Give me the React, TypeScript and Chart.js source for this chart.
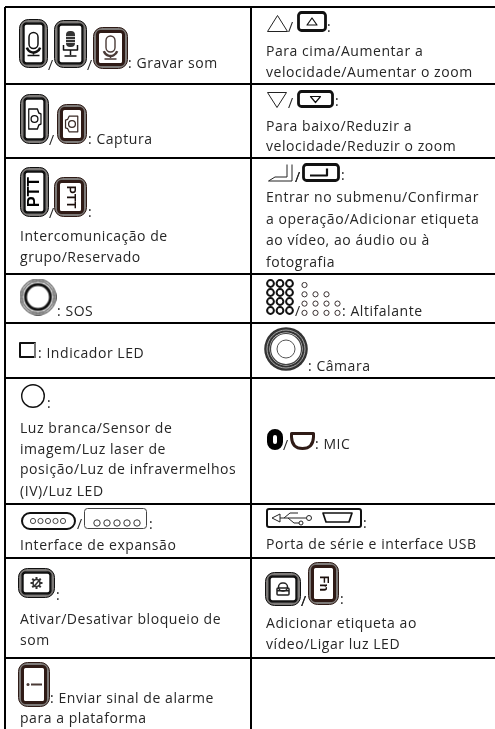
import React, { useEffect, useRef } from "react";
import { Chart, registerables } from "chart.js";

Chart.register(...registerables);

// Table structure (page units)
const columnEdges = [5, 251];
const rowEdges = [7, 84, 158, 274, 323, 378, 504, 558, 658];

// Text runs
const textLabels = [
  ": Gravar som", ": Captura", ":", "Intercomunicação de", "grupo/Reservado", ": SOS", ": Indicador LED", ":",
  "Luz branca/Sensor de", "imagem/Luz laser de", "posição/Luz de infravermelhos", "(IV)/Luz LED", ":", "Interface de expansão",
  ":", "Ativar/Desativar bloqueio de", "som", ": Enviar sinal de alarme", "para a plataforma",
  ":", "Para cima/Aumentar a", "velocidade/Aumentar o zoom", ":", "Para baixo/Reduzir a", "velocidade/Reduzir o zoom",
  ":", "Entrar no submenu/Confirmar", "a operação/Adicionar etiqueta", "ao vídeo, ao áudio ou à", "fotografia",
  ": Altifalante", ": Câmara", ": MIC", ":", "Porta de série e interface USB", ":", "Adicionar etiqueta ao", "vídeo/Ligar luz LED",
  "/", "/", "/", "/", "/", "/", "/", "/", "/", "/", "/", "/", "/",
];
const textX = [
  128, 88, 88, 20, 20, 57, 38, 47, 20, 20, 20, 20, 149, 20, 56, 20, 20, 50, 20,
  327, 266, 266, 335, 266, 266, 341, 266, 266, 266, 266, 342, 308, 315, 363, 266, 340, 266, 266,
  48, 87, 49, 49, 288, 288, 295, 295, 295, 283, 77, 301, 301,
];
const textY = [
  68, 144, 217, 241, 262, 316, 358, 408, 433, 454, 474, 496, 529, 550, 600, 624, 645, 703, 723,
  32, 56, 77, 106, 131, 151, 180, 202, 224, 245, 267, 316, 371, 449, 528, 549, 604, 628, 649,
  70, 70, 145, 218, 32, 108, 182, 182, 316, 450, 529, 606, 606,
];

// Icons
const iconKinds = [
  "micA", "micB", "micC", "camA", "camB", "pttA", "pttB", "sos", "led", "lamp", "expA", "expB", "mute", "alarm",
  "triUp", "btnUp", "triDown", "btnDown", "enter", "btnEnter", "spkA", "spkB", "lens", "mic0", "micD", "usb", "lock", "fn",
];
const iconX = [33.5, 70.5, 110.5, 34.5, 72, 34.5, 70.5, 38, 27.5, 33, 48.5, 115.5, 36.5, 34, 277.5, 312, 277, 315.5, 281.5, 321, 280, 321.5, 286, 275, 302.5, 314, 283, 323.5];
const iconY = [43.5, 44, 48, 119, 124, 192, 197, 297, 350, 396, 521, 518.5, 583, 684.5, 23.5, 21.5, 100, 99, 173, 172.5, 297, 299, 349, 439.5, 441, 518, 589, 583.5];
const iconWidths = [29, 33, 35, 29, 30, 29, 33, 37, 17, 24, 55, 63, 37, 32, 21, 30, 20, 37, 27, 38, 28, 41, 44, 16, 25, 96, 36, 31];
const iconHeights = [49, 48, 42, 50, 40, 50, 40, 37, 16, 24, 18, 21, 30, 45, 17, 21, 16, 18, 18, 19, 36, 34, 44, 21, 18, 20, 34, 43];

const BLACK = "#111";
const BROWN = "#2f1b16";

type C = CanvasRenderingContext2D;

function rr(c: C, x: number, y: number, w: number, h: number, r: number) {
  c.beginPath();
  c.roundRect(x, y, w, h, r);
}

function button(c: C, w: number, h: number, col: string, heavy = false) {
  c.strokeStyle = "#7d7a78";
  c.lineWidth = 3;
  rr(c, 2, 2, w - 4, h - 4, 7);
  c.stroke();
  c.strokeStyle = col;
  c.lineWidth = 1;
  rr(c, 0.5, 0.5, w - 1, h - 1, 9);
  c.stroke();
  c.lineWidth = heavy ? 3 : 2.4;
  rr(c, 4.5, 4.5, w - 9, h - 9, 3);
  c.stroke();
}

function micGlyph(c: C, cx: number, cy: number, col: string, lw: number) {
  c.strokeStyle = col;
  c.fillStyle = col;
  c.lineWidth = lw;
  rr(c, cx - 4.5, cy - 11, 9, 16, 4.5);
  c.stroke();
  c.lineWidth = lw + 1;
  c.beginPath();
  c.arc(cx, cy + 2, 7, 0.1 * Math.PI, 0.9 * Math.PI);
  c.stroke();
  c.lineWidth = lw;
  c.beginPath();
  c.moveTo(cx, cy + 9);
  c.lineTo(cx, cy + 11);
  c.moveTo(cx - 6, cy + 12);
  c.lineTo(cx + 6, cy + 12);
  c.stroke();
}

function camGlyph(c: C, cx: number, cy: number, col: string, flip: number, sy: number) {
  c.save();
  c.translate(cx, cy);
  c.scale(flip * 0.72, sy);
  c.strokeStyle = col;
  c.lineWidth = 1.7;
  c.beginPath();
  c.moveTo(-8, -10);
  c.lineTo(4, -10);
  c.lineTo(6, -6);
  c.lineTo(9, -5);
  c.lineTo(9, 5);
  c.lineTo(6, 6);
  c.lineTo(4, 10);
  c.lineTo(-8, 10);
  c.closePath();
  c.stroke();
  c.restore();
  ring(c, cx, cy, 3.4, 1.3, col);
}

function rotatedWord(c: C, word: string, cx: number, cy: number, angle: number, col: string, size: number) {
  c.save();
  c.translate(cx, cy);
  c.rotate(angle);
  c.fillStyle = col;
  c.font = `bold ${size}px "Liberation Sans"`;
  c.textAlign = "center";
  c.textBaseline = "middle";
  c.fillText(word, 0, 0);
  c.restore();
}

function ring(c: C, x: number, y: number, r: number, lw: number, col: string) {
  c.strokeStyle = col;
  c.lineWidth = lw;
  c.beginPath();
  c.arc(x, y, r, 0, Math.PI * 2);
  c.stroke();
}

function drawIcon(c: C, kind: string, w: number, h: number) {
  const cx = w / 2;
  const cy = h / 2;
  c.lineJoin = "round";
  switch (kind) {
    case "micA":
      button(c, w, h, BLACK);
      micGlyph(c, cx, cy, BLACK, 1.5);
      break;
    case "micB":
      button(c, w, h, BLACK);
      c.fillStyle = "#333";
      rr(c, cx - 4.5, cy - 13, 9, 16, 4);
      c.fill();
      c.fillStyle = "#ccc";
      for (let i = 0; i < 3; i++) c.fillRect(cx - 4.5, cy - 8 + i * 3, 9, 1);
      c.strokeStyle = BLACK;
      c.lineWidth = 1.5;
      c.beginPath();
      c.moveTo(cx - 7, cy + 1);
      c.lineTo(cx - 7, cy + 6);
      c.lineTo(cx + 7, cy + 6);
      c.lineTo(cx + 7, cy + 1);
      c.moveTo(cx, cy + 6);
      c.lineTo(cx, cy + 11);
      c.moveTo(cx - 6, cy + 12);
      c.lineTo(cx + 6, cy + 12);
      c.stroke();
      break;
    case "micC":
      button(c, w, h, BROWN, true);
      micGlyph(c, cx, cy - 1, "#4a3a36", 1.4);
      break;
    case "camA":
      button(c, w, h, BLACK);
      camGlyph(c, cx, cy, BLACK, 1, 1);
      break;
    case "camB":
      button(c, w, h, BROWN, true);
      camGlyph(c, cx, cy, "#3a2a26", -1, 0.78);
      break;
    case "pttA":
      button(c, w, h, BLACK);
      rotatedWord(c, "PTT", cx, cy, -Math.PI / 2, "#000", 16);
      break;
    case "pttB":
      button(c, w, h, BROWN, true);
      rotatedWord(c, "PTT", cx, cy, Math.PI / 2, "#1c0f0c", 12);
      break;
    case "sos":
      ring(c, cx, cy, 17.8, 1, BLACK);
      ring(c, cx, cy, 16, 1, BLACK);
      ring(c, cx, cy, 12.5, 3, BLACK);
      break;
    case "led":
      c.strokeStyle = BLACK;
      c.lineWidth = 2;
      c.strokeRect(1, 1, w - 2, h - 2);
      c.fillStyle = "#777";
      c.fillRect(w - 2, 1, 2, h);
      break;
    case "lamp":
      ring(c, cx, cy, 11.3, 1.4, BLACK);
      break;
    case "expA":
      c.strokeStyle = BLACK;
      c.lineWidth = 2;
      rr(c, 1, 1, w - 2, h - 2, 8);
      c.stroke();
      for (let i = 0; i < 5; i++) ring(c, 12 + i * 7.5, cy, 2.6, 0.9, "#333");
      break;
    case "expB":
      c.strokeStyle = "#444";
      c.lineWidth = 1;
      rr(c, 0.5, 0.5, w - 1, h - 1, 3);
      c.stroke();
      for (let i = 0; i < 5; i++) ring(c, 13 + i * 10, h - 6, 3.2, 1, "#333");
      break;
    case "mute": {
      button(c, w, h, BLACK);
      c.save();
      c.translate(cx, cy);
      c.fillStyle = "#333";
      for (let i = 0; i < 8; i++) {
        c.rotate(Math.PI / 4);
        c.fillRect(-1, -6, 2, 3);
      }
      c.restore();
      ring(c, cx, cy, 3.5, 1.5, "#333");
      c.strokeStyle = "#333";
      c.beginPath();
      c.moveTo(cx - 3, cy + 4);
      c.lineTo(cx + 4, cy - 4);
      c.stroke();
      break;
    }
    case "alarm":
      button(c, w, h, BROWN, true);
      c.fillStyle = "#4a3a36";
      c.fillRect(cx - 3, cy - 1, 11, 2);
      c.beginPath();
      c.arc(cx - 6, cy, 1.5, 0, Math.PI * 2);
      c.fill();
      break;
    case "triUp":
    case "triDown": {
      const up = kind === "triUp";
      c.strokeStyle = "#222";
      c.lineWidth = 1;
      c.beginPath();
      c.moveTo(0.5, up ? h - 0.5 : 0.5);
      c.lineTo(w - 0.5, up ? h - 0.5 : 0.5);
      c.lineTo(cx, up ? 0.5 : h - 0.5);
      c.closePath();
      c.stroke();
      break;
    }
    case "btnUp":
    case "btnDown": {
      const up = kind === "btnUp";
      c.strokeStyle = BLACK;
      c.lineWidth = 2.8;
      rr(c, 1.5, 1.5, w - 3, h - 3, 3);
      c.stroke();
      c.lineWidth = 1.2;
      c.beginPath();
      c.moveTo(cx - 5, up ? cy + 3.5 : cy - 2.5);
      c.lineTo(cx + 5, up ? cy + 3.5 : cy - 2.5);
      c.lineTo(cx, up ? cy - 3.5 : cy + 3.5);
      c.closePath();
      c.stroke();
      break;
    }
    case "enter":
      c.strokeStyle = "#222";
      c.lineWidth = 1;
      c.beginPath();
      c.moveTo(0.5, h - 1);
      c.lineTo(7, h - 5);
      c.lineTo(w - 8, h - 5);
      c.lineTo(w - 8, 0.5);
      c.moveTo(0.5, h - 1);
      c.lineTo(w - 3, h - 1);
      c.lineTo(w - 3, 0.5);
      c.stroke();
      break;
    case "btnEnter":
      c.strokeStyle = BLACK;
      c.lineWidth = 2.8;
      rr(c, 1.5, 1.5, w - 3, h - 3, 3);
      c.stroke();
      c.lineWidth = 2.2;
      c.beginPath();
      c.moveTo(8, cy + 3);
      c.lineTo(w - 13, cy + 3);
      c.lineTo(w - 13, cy - 4);
      c.stroke();
      break;
    case "spkA":
      for (let r = 0; r < 4; r++)
        for (let k = 0; k < 3; k++) ring(c, 4.5 + k * 9.5, 4.5 + r * 9, 3.4, 2, BLACK);
      break;
    case "spkB": {
      const counts = [1, 3, 4, 4];
      for (let r = 0; r < 4; r++)
        for (let k = 0; k < counts[r]; k++) ring(c, 3.5 + k * 11, 3 + r * 9.3, 2.6, 1, "#3a3030");
      break;
    }
    case "lens":
      c.fillStyle = "#333";
      c.beginPath();
      c.arc(cx, cy, 21.8, 0, Math.PI * 2);
      c.fill();
      ring(c, cx, cy, 19, 1, "#aaa");
      c.fillStyle = "#fff";
      c.beginPath();
      c.arc(cx, cy, 16.5, 0, Math.PI * 2);
      c.fill();
      ring(c, cx, cy, 15.5, 1.2, "#444");
      ring(c, cx, cy, 9, 1, "#555");
      break;
    case "mic0":
      c.strokeStyle = "#000";
      c.lineWidth = 6;
      rr(c, 3, 3, w - 6, h - 6, 5);
      c.stroke();
      break;
    case "micD":
      c.strokeStyle = BROWN;
      c.lineWidth = 3;
      c.beginPath();
      c.moveTo(1.5, 1.5);
      c.lineTo(w - 1.5, 1.5);
      c.lineTo(w - 1.5, 5);
      c.quadraticCurveTo(w - 2, h - 1.5, cx, h - 1.5);
      c.quadraticCurveTo(2, h - 1.5, 1.5, 5);
      c.closePath();
      c.stroke();
      break;
    case "usb":
      c.strokeStyle = BLACK;
      c.lineWidth = 2;
      rr(c, 1, 1, w - 2, h - 2, 2);
      c.stroke();
      c.lineWidth = 1;
      c.strokeStyle = "#222";
      c.beginPath();
      c.moveTo(6, cy);
      c.lineTo(14, cy - 4);
      c.lineTo(14, cy + 4);
      c.closePath();
      c.moveTo(14, cy);
      c.lineTo(40, cy);
      c.moveTo(18, cy);
      c.lineTo(24, cy - 5);
      c.lineTo(32, cy - 5);
      c.moveTo(22, cy);
      c.lineTo(28, cy + 5);
      c.lineTo(33, cy + 5);
      c.stroke();
      ring(c, 43, cy, 2.5, 1, "#222");
      ring(c, 35, cy + 5, 2, 1, "#222");
      c.strokeStyle = BLACK;
      c.lineWidth = 1.7;
      c.beginPath();
      c.moveTo(57, cy - 5);
      c.lineTo(86, cy - 5);
      c.lineTo(83, cy + 4);
      c.lineTo(60, cy + 4);
      c.closePath();
      c.stroke();
      break;
    case "lock":
      button(c, w, h, BLACK);
      c.fillStyle = "#222";
      c.strokeStyle = "#222";
      c.lineWidth = 1.5;
      rr(c, cx - 4.5, cy - 6, 9, 8, 4);
      c.stroke();
      rr(c, cx - 6, cy - 1, 12, 7, 1);
      c.stroke();
      c.fillRect(cx - 6, cy + 1, 12, 1.5);
      break;
    case "fn":
      button(c, w, h, BROWN, true);
      rotatedWord(c, "Fn", cx, cy, Math.PI / 2, "#1c0f0c", 13);
      break;
  }
}

function makeIconCanvas(kind: string, w: number, h: number) {
  const cv = document.createElement("canvas");
  cv.width = Math.ceil(w);
  cv.height = Math.ceil(h);
  drawIcon(cv.getContext("2d") as C, kind, cv.width, cv.height);
  return cv;
}

const tableText = {
  id: "tableText",
  afterDatasetsDraw(chart: any) {
    const { ctx, scales } = chart;
    ctx.save();
    ctx.fillStyle = "#262626";
    ctx.font = '14px "Open Sans"';
    ctx.letterSpacing = "0.55px";
    ctx.textBaseline = "alphabetic";
    ctx.textAlign = "left";
    textLabels.forEach((t, i) => {
      ctx.fillText(t, scales.x.getPixelForValue(textX[i]), scales.y.getPixelForValue(textY[i]));
    });
    ctx.restore();
  },
};

export default function App() {
  const ref = useRef<HTMLCanvasElement | null>(null);
  useEffect(() => {
    if (!ref.current) return;
    const styles = iconKinds.map((k, i) => makeIconCanvas(k, iconWidths[i], iconHeights[i]));
    const chart = new Chart(ref.current, {
      type: "scatter",
      data: {
        datasets: [
          {
            label: "Icons",
            data: iconKinds.map((_, i) => ({ x: iconX[i], y: iconY[i] })),
            pointStyle: styles as any,
            pointRadius: 1,
            showLine: false,
          },
        ],
      },
      options: {
        animation: false,
        responsive: false,
        devicePixelRatio: 1,
        layout: { autoPadding: false, padding: { left: 5, top: 7 } },
        plugins: { legend: { display: false }, tooltip: { enabled: false } },
        scales: {
          x: {
            type: "linear",
            min: 5,
            max: 495,
            afterBuildTicks: (s: any) => {
              s.ticks = columnEdges.map((value) => ({ value }));
            },
            ticks: { display: false },
            grid: { color: "#000", lineWidth: 2, drawTicks: false },
            border: { display: false },
          },
          y: {
            type: "linear",
            reverse: true,
            min: 7,
            max: 729,
            afterBuildTicks: (s: any) => {
              s.ticks = rowEdges.map((value) => ({ value }));
            },
            ticks: { display: false },
            grid: { color: "#000", lineWidth: 2, drawTicks: false },
            border: { display: false },
          },
        },
      },
      plugins: [tableText],
    } as any);
    return () => chart.destroy();
  }, []);
  return (
    <div style={{ position: "absolute", left: 0, top: 0, width: 495, height: 729, background: "#fff" }}>
      <canvas ref={ref} width={495} height={729} style={{ display: "block" }} />
    </div>
  );
}
